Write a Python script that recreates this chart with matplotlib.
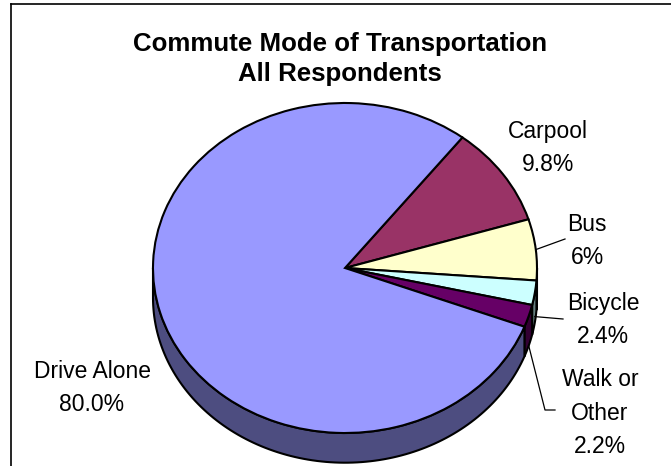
import numpy as np
import matplotlib.pyplot as plt
from matplotlib.patches import Polygon
from matplotlib.lines import Line2D

plt.rcParams['font.family'] = ['Liberation Sans', 'DejaVu Sans']

labels = ['Carpool', 'Bus', 'Bicycle', 'Walk or\nOther', 'Drive Alone']
values = [9.8, 6, 2.4, 2.2, 80.0]
pct_text = ['9.8%', '6%', '2.4%', '2.2%', '80.0%']
top_colors = ['#993366', '#FFFFCC', '#CCFFFF', '#660066', '#9999FF']
side_colors = ['#4d1a33', '#808066', '#668080', '#330033', '#4d4d80']

start = 52.3      # degrees, first wedge edge
depth = 0.18      # thickness of the pie, in radius units

W, H = 671, 466
cx, cy, rx, ry = 345, 268, 192, 165   # pie centre / radii in pixels


def to_data(px, py):
    return (px - cx) / rx, (cy - py) / ry


fig = plt.figure(figsize=(W / 100, H / 100), dpi=100)
ax = fig.add_axes([0, 0, 1, 1])

frac = np.array(values) / sum(values)
bounds = start - 360 * np.concatenate([[0], np.cumsum(frac)])
mids = (bounds[:-1] + bounds[1:]) / 2

# side of the pie (only the front half is visible)
for i in range(len(values)):
    a1, a2 = bounds[i + 1], bounds[i]
    for k in (-1, 0, 1):
        lo = max(a1, -180 + 360 * k)
        hi = min(a2, 360 * k)
        if hi <= lo:
            continue
        t = np.radians(np.linspace(lo, hi, 120))
        top = np.column_stack([np.cos(t), np.sin(t)])
        bot = np.column_stack([np.cos(t), np.sin(t) - depth])[::-1]
        ax.add_patch(Polygon(np.vstack([top, bot]), closed=True,
                             facecolor=side_colors[i], edgecolor='black',
                             linewidth=1.5, zorder=1))

ax.pie(values, colors=top_colors, startangle=start, counterclock=False,
       wedgeprops=dict(edgecolor='black', linewidth=1.5, zorder=2))

ax.set_aspect('auto')
ax.set_xlim(to_data(0, 0)[0], to_data(W, 0)[0])
ax.set_ylim(to_data(0, H)[1], to_data(0, 0)[1])
ax.axis('off')

# labels
label_pos = {
    'Carpool': (548, 148),
    'Bus': (587, 241),
    'Bicycle': (603, 320),
    'Walk or\nOther': (600, 413),
    'Drive Alone': (92, 388),
}
for lab, pct in zip(labels, pct_text):
    x, y = to_data(*label_pos[lab])
    ax.text(x, y, lab + '\n' + pct, ha='center', va='center', fontsize=16.5,
            linespacing=1.6, zorder=5)

# leader lines
def edge_point(angle, drop):
    a = np.radians(angle)
    return np.cos(a), np.sin(a) - drop

bx, by = edge_point(mids[1], 0)
ex, ey = to_data(565, 239)
ax.plot([bx, ex], [by, ey], color='black', lw=0.9, zorder=4)

bx, by = edge_point(mids[2], depth * 0.8)
ex, ey = to_data(563, 319)
ax.plot([bx, ex], [by, ey], color='black', lw=0.9, zorder=4)

bx, by = edge_point(mids[3], depth)
mx, my = to_data(545, 410)
ex, ey = to_data(555, 410)
ax.plot([bx, mx, ex], [by, my, ey], color='black', lw=0.9, zorder=4)

# title
tx, ty = to_data(340, 59)
ax.text(tx, ty, 'Commute Mode of Transportation\nAll Respondents', ha='center',
        va='center', fontsize=18.6, fontweight='bold', linespacing=1.35)

# chart area border (left and top only, the rest is cropped)
fig.add_artist(Line2D([11 / W, 11 / W], [0, 1 - 4 / H], color='black', lw=1.2))
fig.add_artist(Line2D([11 / W, 1], [1 - 4 / H, 1 - 4 / H], color='black', lw=1.2))

fig.savefig('out.png', dpi=100)
